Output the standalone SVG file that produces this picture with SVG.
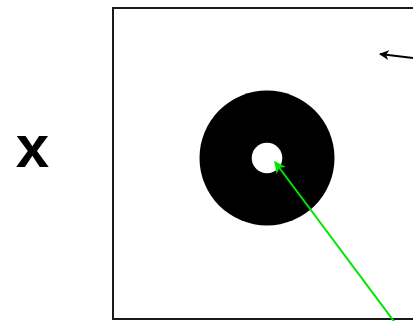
<svg xmlns="http://www.w3.org/2000/svg" width="413" height="321" viewBox="0 0 413 321">
<style>
.frame{fill:none;stroke:#1a1a1a;stroke-width:2}
.lbl{font-family:"Liberation Sans",Arial,sans-serif;font-weight:bold;font-size:60px;fill:#000}
</style>
<defs>
<marker id="ahB" viewBox="0 0 10 10" refX="9" refY="5" markerWidth="5" markerHeight="5" orient="auto" markerUnits="strokeWidth"><path d="M0,0 L10,5 L0,10 L3,5 z" fill="#000"/></marker>
<marker id="ahG" viewBox="0 0 10 10" refX="9" refY="5" markerWidth="6" markerHeight="6" orient="auto" markerUnits="strokeWidth"><path d="M0,0 L10,5 L0,10 L3,5 z" fill="#00e600"/></marker>
</defs>
<rect width="413" height="321" fill="#fff"/>
<g id="frame"><rect class="frame" x="113" y="8" width="320" height="311"/></g>
<g id="label-x"><text class="lbl" x="32.5" y="167" text-anchor="middle">x</text></g>
<g id="ring">
<circle cx="267" cy="158" r="67.5" fill="#000"/>
<circle cx="267" cy="158" r="15.3" fill="#fff"/>
</g>
<g id="connectors">
<line x1="413" y1="58" x2="380" y2="54" stroke="#000" stroke-width="2" marker-end="url(#ahB)"/>
<line x1="396" y1="324" x2="275" y2="162" stroke="#00e600" stroke-width="2" marker-end="url(#ahG)"/>
</g>
</svg>
